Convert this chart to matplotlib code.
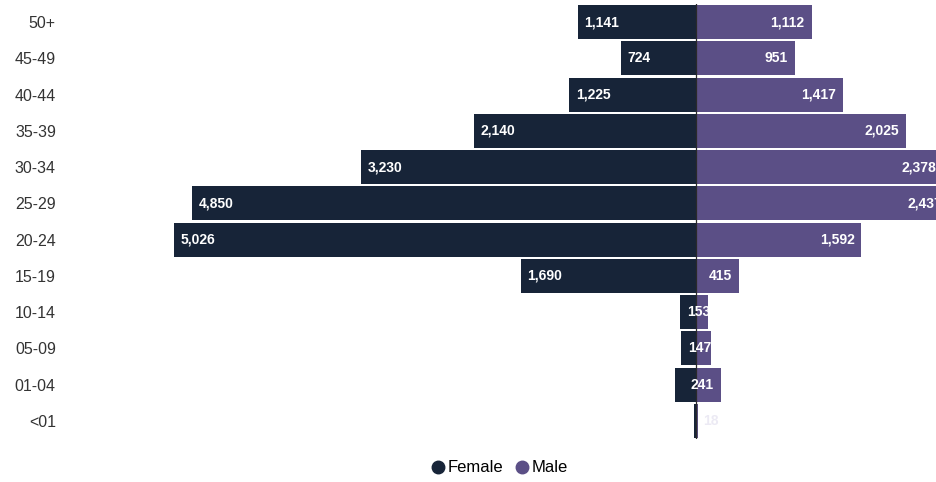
import matplotlib.pyplot as plt
from matplotlib.lines import Line2D
import numpy as np

# Age groups, top to bottom
ages = ["50+", "45-49", "40-44", "35-39", "30-34", "25-29",
        "20-24", "15-19", "10-14", "05-09", "01-04", "<01"]

female = [1141, 724, 1225, 2140, 3230, 4850, 5026, 1690, 153, 147, 205, 20]
male = [1112, 951, 1417, 2025, 2378, 2437, 1592, 415, 115, 144, 241, 18]

# which data labels are visible in the original
female_show = [1, 1, 1, 1, 1, 1, 1, 1, 1, 1, 0, 0]
male_show = [1, 1, 1, 1, 1, 1, 1, 1, 0, 0, 1, 0]

female_color = "#172438"
male_color = "#5b4f86"

plt.rcParams["font.family"] = ["Liberation Sans", "DejaVu Sans"]

fig = plt.figure(figsize=(9.37, 4.82), dpi=100)
ax = fig.add_axes([160 / 937, 43 / 482, 777 / 937, 435 / 482])

n = len(ages)
y = np.arange(n)[::-1]

ax.barh(y, -np.array(female), height=0.94, color=female_color, zorder=2)
ax.barh(y, male, height=0.94, color=male_color, zorder=2)
ax.axvline(0, color="#2a2a2a", linewidth=0.9, zorder=3)

for yi, f, m, fs, ms in zip(y, female, male, female_show, male_show):
    if fs:
        ax.annotate(f"{f:,}", (-f, yi), xytext=(5, 0), textcoords="offset points",
                    ha="left", va="center", color="white", fontsize=10,
                    fontweight="bold", zorder=4, annotation_clip=False)
    if ms:
        ax.annotate(f"{m:,}", (m, yi), xytext=(-5, 0), textcoords="offset points",
                    ha="right", va="center", color="white", fontsize=10,
                    fontweight="bold", zorder=4, annotation_clip=False)

# faint outside label for the smallest group
ax.annotate(f"{male[-1]:,}", (male[-1], y[-1]), xytext=(3.5, 0),
            textcoords="offset points", ha="left", va="center",
            color="#eceaf4", fontsize=10, fontweight="bold", zorder=4)

ax.set_xlim(-5161, 2320)
ax.set_ylim(-0.5, n - 0.5)
ax.set_yticks(y)
ax.set_yticklabels(ages, fontsize=11.5, color="#333333")
ax.tick_params(axis="y", length=0, pad=75)
ax.set_xticks([])
for s in ax.spines.values():
    s.set_visible(False)

handles = [
    Line2D([], [], marker="o", linestyle="", color=female_color, markersize=9),
    Line2D([], [], marker="o", linestyle="", color=male_color, markersize=9),
]
fig.legend(handles, ["Female", "Male"], loc="center",
           bbox_to_anchor=(499 / 937, 1 - 468 / 482), ncol=2, frameon=False,
           fontsize=12, handletextpad=0.1, columnspacing=0.6, handlelength=1.0)

plt.savefig("out.png", dpi=100)
